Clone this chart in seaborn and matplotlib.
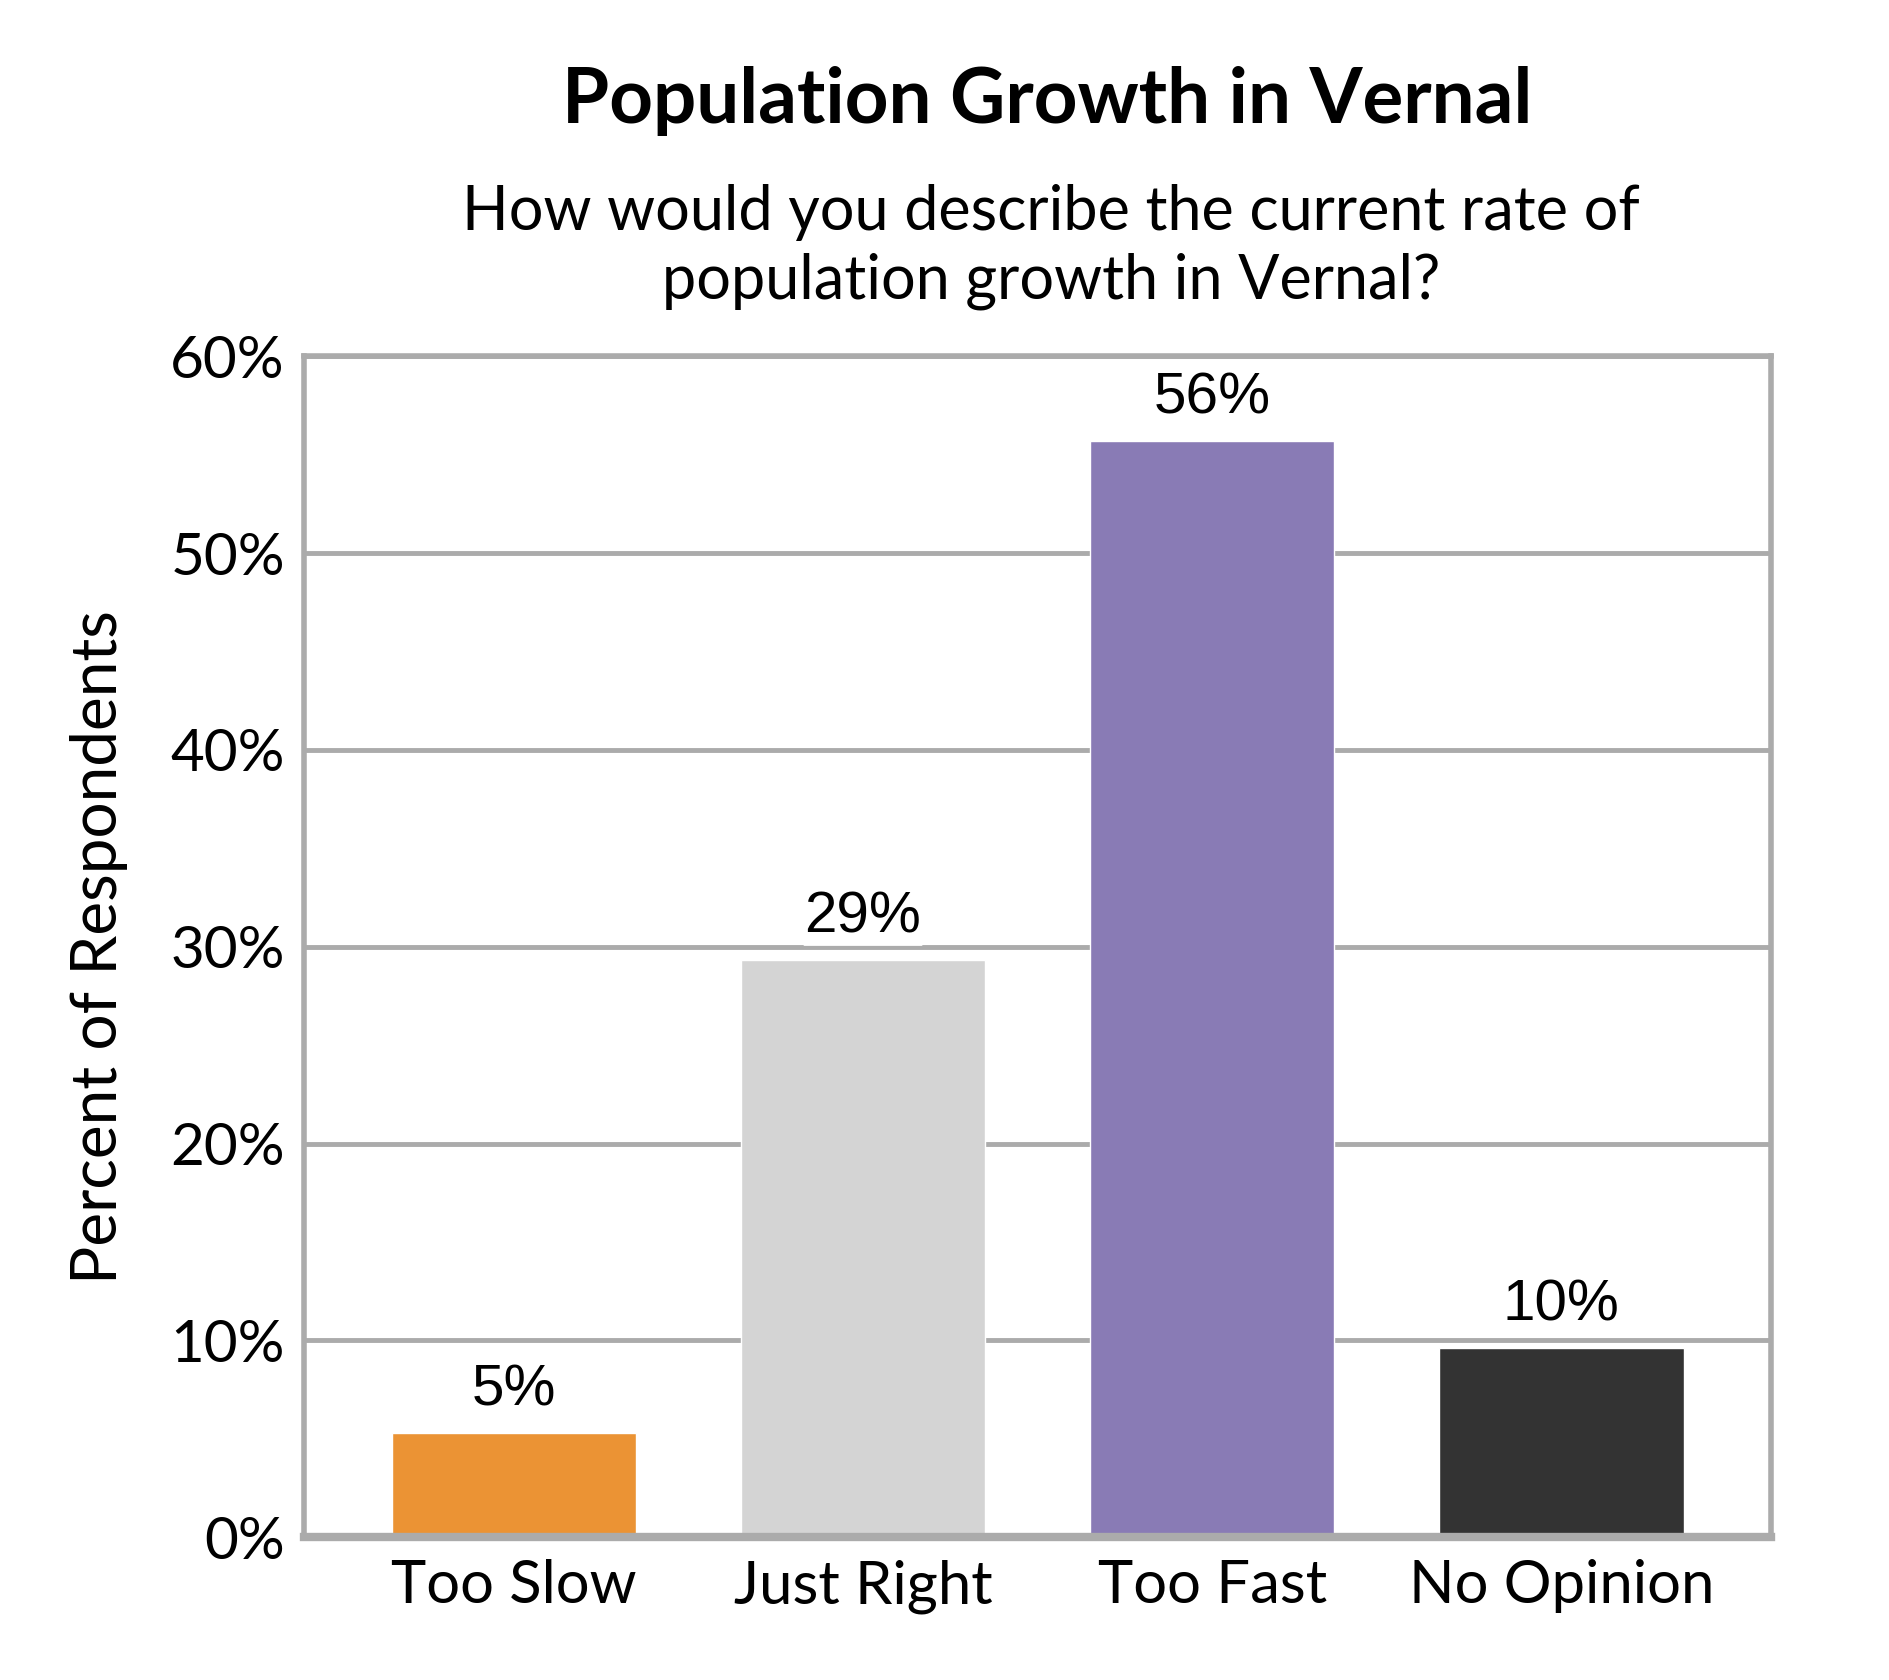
import pandas as pd
import seaborn as sns
import matplotlib.pyplot as plt

# survey answers
categories = ['Too Slow', 'Just Right', 'Too Fast', 'No Opinion']
percent = [5.3, 29.3, 55.7, 9.6]
labels = ['5%', '29%', '56%', '10%']
colors = ['#EB9334', '#D4D4D4', '#897BB5', '#333333']
yticks = [0, 10, 20, 30, 40, 50, 60]

df = pd.DataFrame({'Answer': categories, 'Percent': percent})

sns.set_style('white')
plt.rcParams['font.family'] = ['Lato', 'DejaVu Sans']
plt.rcParams['text.color'] = 'black'

fig = plt.figure(figsize=(18.9, 16.8), dpi=100)
ax = fig.add_axes([0.161, 0.085, 0.776, 0.703])

sns.barplot(x='Answer', y='Percent', data=df, hue='Answer', palette=colors,
            legend=False, width=0.7, saturation=1, ax=ax, zorder=3)

# grid lines
ax.set_ylim(0, 60)
ax.set_xlim(-0.6, 3.6)
ax.set_yticks(yticks)
ax.set_yticklabels([f'{t}%' for t in yticks])
ax.yaxis.grid(True, color='#ABABAB', linewidth=3.5, zorder=0)
ax.set_axisbelow(True)
for s in ax.spines.values():
    s.set_color('#ABABAB')
    s.set_linewidth(4)
    s.set_visible(True)
    s.set_zorder(6)
ax.spines['bottom'].set_linewidth(6)
ax.tick_params(axis='both', length=0, labelsize=42, labelcolor='black', pad=14)
ax.tick_params(axis='x', labelsize=43, pad=16)

# value labels
for i, (v, t) in enumerate(zip(percent, labels)):
    ax.text(i, v + 0.8, t, ha='center', va='bottom', fontsize=42, color='black',
            family=['Liberation Sans'], zorder=5,
            bbox=dict(boxstyle='round,pad=0.02', fc='white', ec='none'))

ax.set_xlabel('')
ax.set_ylabel('Percent of Respondents', fontsize=46, color='black')
ax.yaxis.set_label_coords(-0.12, 0.5)

fig.text(0.554, 0.94, 'Population Growth in Vernal', ha='center', va='center',
         fontsize=55, fontweight='bold')
fig.text(0.556, 0.853, 'How would you describe the current rate of\npopulation growth in Vernal?',
         ha='center', va='center', fontsize=44, linespacing=1.25)

plt.savefig('out.png', dpi=100)
